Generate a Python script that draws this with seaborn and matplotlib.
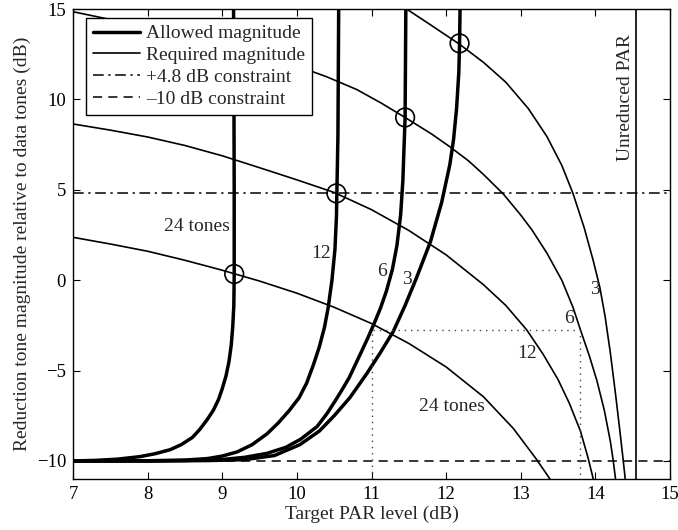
import numpy as np
import pandas as pd
import matplotlib
matplotlib.use("Agg")
import matplotlib.pyplot as plt
from matplotlib.lines import Line2D
import seaborn as sns

# Required magnitude (thin curves)
req_x_24 = [6.9, 7.0, 7.5, 8.0, 8.5, 9.0, 9.5, 10.0, 10.5, 11.0, 11.5, 12.0, 12.5, 12.9, 13.2, 13.4, 13.45]
req_y_24 = [2.45, 2.37, 2.0, 1.6, 1.1, 0.55, -0.05, -0.72, -1.5, -2.4, -3.5, -4.8, -6.45, -8.2, -9.85, -11.05, -11.4]
req_x_12 = [6.9, 7.0, 7.5, 8.0, 8.5, 9.0, 9.5, 10.0, 10.5, 11.0, 11.5, 12.0, 12.5, 12.8, 13.08, 13.3, 13.5, 13.65, 13.8, 13.9, 13.96, 14.0]
req_y_12 = [8.7, 8.64, 8.3, 7.92, 7.45, 6.88, 6.22, 5.55, 4.85, 3.9, 2.75, 1.4, -0.25, -1.4, -2.75, -4.1, -5.5, -6.8, -8.35, -9.8, -10.8, -11.5]
req_x_6 = [6.9, 7.0, 7.5, 8.0, 8.5, 9.0, 9.5, 10.0, 10.4, 10.8, 11.12, 11.45, 11.8, 12.05, 12.3, 12.5, 12.77, 13.0, 13.15, 13.35, 13.55, 13.7, 13.8, 13.92, 14.02, 14.12, 14.2, 14.24, 14.27, 14.285]
req_y_6 = [14.93, 14.85, 14.42, 14.0, 13.55, 13.05, 12.5, 11.85, 11.25, 10.55, 9.82, 9.0, 8.1, 7.38, 6.6, 5.85, 4.75, 3.6, 2.78, 1.5, 0.0, -1.5, -2.75, -4.2, -5.55, -7.2, -8.9, -10.0, -11.0, -11.5]
req_x_3 = [11.2, 11.47, 11.8, 12.18, 12.5, 12.8, 13.1, 13.35, 13.55, 13.7, 13.85, 13.97, 14.06, 14.13, 14.2, 14.27, 14.33, 14.37, 14.4, 14.41]
req_y_3 = [15.7, 15.0, 14.1, 13.05, 12.05, 10.95, 9.5, 7.95, 6.35, 4.8, 2.9, 1.1, -0.4, -2.0, -4.0, -6.3, -8.4, -9.85, -11.0, -11.5]

# Allowed magnitude (thick curves)
alw_x_24 = [7.0, 7.3, 7.6, 7.9, 8.1, 8.3, 8.45, 8.6, 8.7, 8.8, 8.88, 8.95, 9.0, 9.05, 9.09, 9.12, 9.14, 9.155, 9.16, 9.16, 9.155, 9.15]
alw_y_24 = [-10.0, -9.97, -9.9, -9.76, -9.6, -9.38, -9.1, -8.7, -8.25, -7.7, -7.2, -6.6, -6.0, -5.3, -4.5, -3.6, -2.6, -1.4, 0.3, 5.0, 12.0, 16.0]
alw_x_12 = [7.0, 8.0, 8.5, 8.8, 9.0, 9.2, 9.4, 9.6, 9.75, 9.9, 10.03, 10.13, 10.22, 10.3, 10.37, 10.42, 10.47, 10.51, 10.53, 10.55, 10.56, 10.56]
alw_y_12 = [-10.0, -9.99, -9.95, -9.87, -9.73, -9.5, -9.1, -8.5, -7.9, -7.2, -6.5, -5.7, -4.7, -3.7, -2.6, -1.5, 0.0, 1.7, 3.5, 8.0, 15.0, 16.0]
alw_x_6 = [7.0, 8.0, 8.5, 9.0, 9.3, 9.6, 9.85, 10.05, 10.27, 10.4, 10.51, 10.6, 10.7, 10.78, 10.86, 10.95, 11.03, 11.12, 11.2, 11.28, 11.34, 11.39, 11.42, 11.45, 11.46, 11.46]
alw_y_6 = [-10.0, -10.0, -9.98, -9.92, -9.8, -9.58, -9.25, -8.8, -8.1, -7.4, -6.7, -6.1, -5.4, -4.7, -4.0, -3.2, -2.45, -1.55, -0.6, 0.6, 1.9, 3.6, 5.5, 9.0, 15.0, 16.0]
alw_x_3 = [7.0, 8.0, 8.8, 9.3, 9.7, 10.04, 10.3, 10.5, 10.71, 10.94, 11.12, 11.29, 11.45, 11.6, 11.79, 11.94, 12.05, 12.1, 12.14, 12.17, 12.18, 12.19]
alw_y_3 = [-10.0, -10.0, -9.98, -9.93, -9.7, -9.1, -8.35, -7.5, -6.5, -5.15, -4.0, -2.85, -1.4, 0.1, 2.13, 4.3, 6.4, 7.8, 9.5, 11.5, 13.1, 16.0]

# Operating points (circles)
op_x = [9.16, 10.53, 11.45, 12.18]
op_y = [0.34, 4.8, 9.0, 13.1]

unreduced_par = 14.54
upper_limit = 4.8
lower_limit = -10.0

# dotted example path
ex_x = [11.0, 11.0, 13.8, 13.8]
ex_y = [-11.0, -2.75, -2.75, -11.0]

tones = ["24", "12", "6", "3"]
req_x = [req_x_24, req_x_12, req_x_6, req_x_3]
req_y = [req_y_24, req_y_12, req_y_6, req_y_3]
alw_x = [alw_x_24, alw_x_12, alw_x_6, alw_x_3]
alw_y = [alw_y_24, alw_y_12, alw_y_6, alw_y_3]

rows = []
for t, xs, ys in zip(tones, req_x, req_y):
    for a, b in zip(xs, ys):
        rows.append({"x": a, "y": b, "curve": t, "kind": "required"})
for t, xs, ys in zip(tones, alw_x, alw_y):
    for a, b in zip(xs, ys):
        rows.append({"x": a, "y": b, "curve": t, "kind": "allowed"})
df = pd.DataFrame(rows)

sns.set_style("ticks")
plt.rcParams["font.family"] = ["Liberation Serif", "DejaVu Serif"]

fig = plt.figure(figsize=(6.78, 5.30), dpi=100)
ax = fig.add_axes([0.1077, 0.0962, 0.8805, 0.8868])

sns.lineplot(data=df[df.kind == "required"], x="x", y="y", units="curve",
             estimator=None, sort=False, color="black", lw=1.2, ax=ax)
sns.lineplot(data=df[df.kind == "allowed"], x="x", y="y", units="curve",
             estimator=None, sort=False, color="black", lw=2.5, ax=ax)

ax.axhline(upper_limit, color="black", lw=1.1, ls=(0, (7, 3, 1.5, 3)))
ax.axhline(lower_limit, color="black", lw=1.1, ls=(0, (6, 4)))
ax.axvline(unreduced_par, color="black", lw=1.2)
ax.plot(ex_x, ex_y, color="#444444", lw=1.0, ls=(0, (1, 3.5)))

sns.scatterplot(x=op_x, y=op_y, s=180, facecolor="none", edgecolor="black",
                linewidth=1.2, ax=ax, zorder=5)

fs = 14
ax.text(8.66, 2.96, "24 tones", fontsize=fs, ha="center", va="center")
ax.text(10.33, 1.49, "12", fontsize=fs, ha="center", va="center")
ax.text(11.14, 0.47, "6", fontsize=fs, ha="center", va="center")
ax.text(11.48, 0.01, "3", fontsize=fs, ha="center", va="center")
ax.text(12.08, -7.0, "24 tones", fontsize=fs, ha="center", va="center")
ax.text(13.08, -4.04, "12", fontsize=fs, ha="center", va="center")
ax.text(13.64, -2.11, "6", fontsize=fs, ha="center", va="center")
ax.text(14.0, -0.54, "3", fontsize=fs, ha="center", va="center")
ax.text(14.41, 10.1, "Unreduced PAR", fontsize=fs, ha="center", va="center", rotation=90)

ax.set_xlim(7, 15)
ax.set_ylim(-11, 15)
ax.set_xticks(range(7, 16))
ax.set_yticks([-10, -5, 0, 5, 10, 15])
ax.tick_params(direction="in", top=True, right=True, length=5, width=0.8,
               labelsize=13.5, colors="black", pad=5)
for sp in ax.spines.values():
    sp.set_linewidth(1.0)
    sp.set_color("black")
ax.set_xlabel("Target PAR level (dB)", fontsize=fs, labelpad=2)
ax.set_ylabel("Reduction tone magnitude relative to data tones (dB)", fontsize=fs, labelpad=4)

handles = [
    Line2D([], [], color="black", lw=2.5),
    Line2D([], [], color="black", lw=1.2),
    Line2D([], [], color="black", lw=1.1, ls=(0, (7, 3, 1.5, 3))),
    Line2D([], [], color="black", lw=1.1, ls=(0, (6, 4))),
]
labels = ["Allowed magnitude", "Required magnitude", "+4.8 dB constraint", "\u201310 dB constraint"]
leg = ax.legend(handles, labels, loc="upper left", bbox_to_anchor=(0.022, 0.981),
                fontsize=fs, frameon=True, fancybox=False, framealpha=1,
                edgecolor="black", handlelength=2.4, handletextpad=0.35,
                borderpad=0.35, labelspacing=0.22, borderaxespad=0)
leg.get_frame().set_linewidth(1.0)

fig.savefig("out.png", dpi=100)
